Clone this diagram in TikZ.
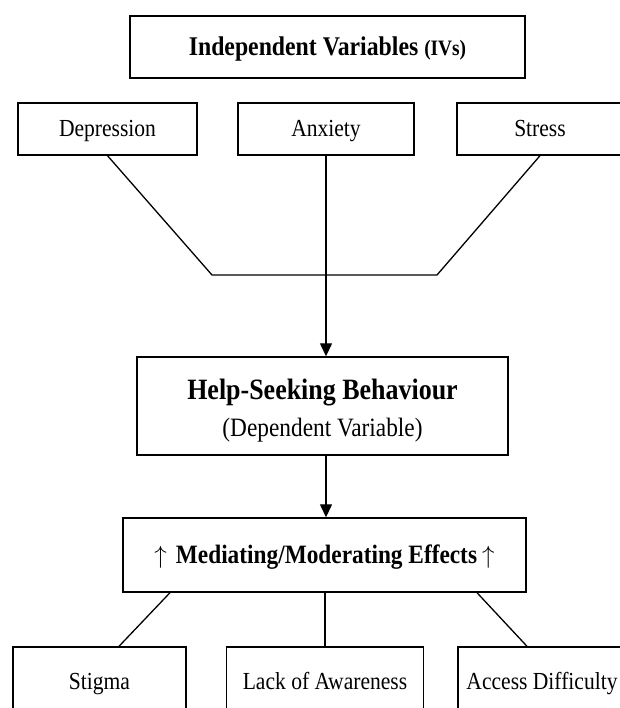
\documentclass[tikz,border=0pt]{standalone}
\usepackage{fontspec}
\setmainfont{Liberation Serif}[FakeStretch=0.88]
\usetikzlibrary{arrows.meta}

\begin{document}
\begin{tikzpicture}[x=1pt,y=-1pt,
    box/.style={draw, line width=1.4pt, inner sep=0pt, align=center,
        text height=16pt, text depth=0pt,
        font=\fontsize{24.5}{28}\selectfont},
    link/.style={line width=1.3pt},
    flow/.style={line width=1.3pt, -{Triangle[length=13pt,width=12pt]}}]
    \useasboundingbox (0,0) rectangle (619,708);

    % Independent variables
    \node[box, minimum width=395pt, minimum height=62pt, text height=18pt,
        font=\fontsize{27}{30}\selectfont\bfseries] (ivs) at (327.5,47)
        {Independent Variables {\fontsize{22}{24}\selectfont(IVs)}};
    \node[box, minimum width=179pt, minimum height=52pt] (dep) at (107.5,129) {Depression};
    \node[box, minimum width=176pt, minimum height=52pt] (anx) at (326,129) {Anxiety};
    \node[box, minimum width=166pt, minimum height=52pt] (str) at (540,129) {Stress};

    % Joining lines
    \coordinate (jl) at (212,275);
    \coordinate (jr) at (437,275);
    \draw[link] (dep.south) -- (jl) -- (jr) -- (str.south);

    % Dependent variable
    \node[draw, line width=1.4pt, inner sep=0pt, align=center,
        minimum width=371pt, minimum height=98pt,
        font=\fontsize{26.5}{37}\selectfont] (help) at (322.5,406)
        {\rule{0pt}{30pt}{\fontsize{29.5}{34}\selectfont\bfseries Help-Seeking Behaviour}\\(Dependent Variable)};
    \draw[flow] (anx.south) -- (anx.south |- help.north);

    % Mediating effects
    \node[box, minimum width=403pt, minimum height=74pt, text height=17.5pt,
        font=\fontsize{26.5}{30}\selectfont] (med) at (324.5,555)
        {$\uparrow$\hspace{9pt}\textbf{Mediating/Moderating Effects}\hspace{5pt}$\uparrow$};
    \draw[flow] (help.south -| anx.south) -- (med.north -| anx.south);

    % Barriers
    \node[box, minimum width=173pt, minimum height=68pt] (stig) at (99.5,681) {Stigma};
    \node[box, minimum width=197pt, minimum height=68pt] (lack) at (325,681) {Lack of Awareness};
    \node[box, minimum width=168pt, minimum height=68pt] (acc) at (542,681) {Access Difficulty};

    \draw[link] ([xshift=-154.5pt]med.south) -- ([xshift=19.5pt]stig.north);
    \draw[link] (med.south -| lack.north) -- (lack.north);
    \draw[link] ([xshift=152.5pt]med.south) -- ([xshift=-15pt]acc.north);
\end{tikzpicture}
\end{document}
